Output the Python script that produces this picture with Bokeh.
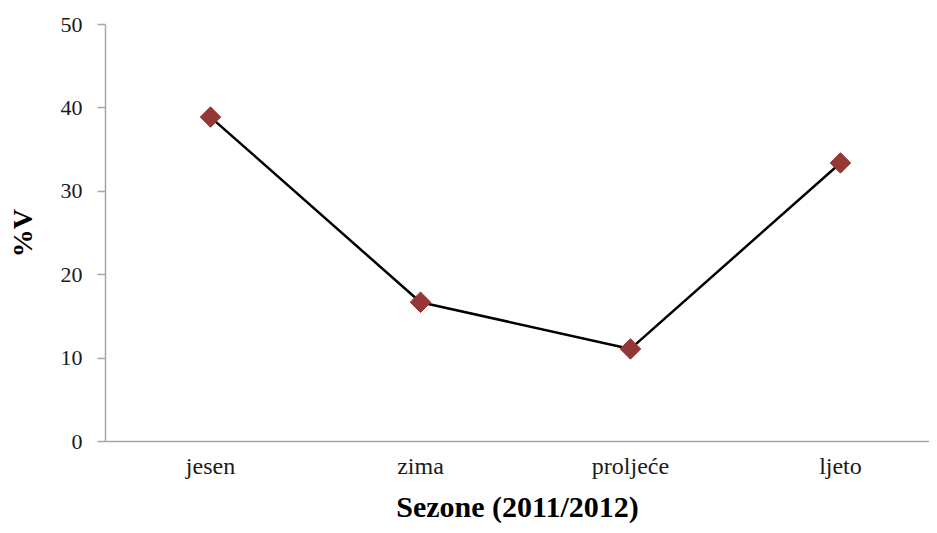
import math
from bokeh.plotting import figure
from bokeh.models import FixedTicker, Range1d, ColumnDataSource
from bokeh.embed import file_html
from bokeh.resources import INLINE

seasons = ["jesen", "zima", "proljeće", "ljeto"]
values = [38.9, 16.7, 11.1, 33.4]
y_ticks = [0, 10, 20, 30, 40, 50]

xs = list(range(1, len(seasons) + 1))
src = ColumnDataSource(dict(x=xs, y=values, name=seasons))

FONT = "Liberation Serif"

p = figure(width=929, height=525, output_backend="svg", toolbar_location=None,
           x_range=Range1d(0.5, 4.424), y_range=Range1d(0, 50),
           min_border_left=105, min_border_top=24, min_border_bottom=82, min_border_right=0)
p.outline_line_color = None
p.grid.visible = False

p.line("x", "y", source=src, line_color="black", line_width=2.5)
p.scatter("x", "y", source=src, marker="square", angle=math.pi / 4, size=14.5,
          fill_color="#953735", line_color="#953735")

xa = p.xaxis[0]
xa.ticker = FixedTicker(ticks=xs)
xa.major_label_overrides = {i: s for i, s in zip(xs, seasons)}
xa.major_tick_out = 0
xa.major_tick_in = 0
xa.minor_tick_out = 0
xa.minor_tick_in = 0
xa.axis_line_color = "#a6a6a6"
xa.axis_line_width = 1.5
xa.major_label_text_font = FONT
xa.major_label_text_font_size = "24px"
xa.major_label_text_color = "#1a1a1a"
xa.major_label_standoff = 11
xa.axis_label = "Sezone (2011/2012)"
xa.axis_label_text_font = FONT
xa.axis_label_text_font_size = "30px"
xa.axis_label_text_font_style = "bold"
xa.axis_label_text_color = "black"
xa.axis_label_standoff = 8

ya = p.yaxis[0]
ya.ticker = FixedTicker(ticks=y_ticks)
ya.major_tick_out = 8
ya.major_tick_in = 0
ya.minor_tick_out = 0
ya.minor_tick_in = 0
ya.major_tick_line_color = "#a6a6a6"
ya.axis_line_color = "#a6a6a6"
ya.axis_line_width = 1.5
ya.major_tick_line_width = 1.5
ya.major_label_text_font = FONT
ya.major_label_text_font_size = "22px"
ya.major_label_text_color = "#1a1a1a"
ya.major_label_standoff = 15
ya.axis_label = "%V"
ya.axis_label_text_font = FONT
ya.axis_label_text_font_size = "28px"
ya.axis_label_text_font_style = "bold"
ya.axis_label_text_color = "black"
ya.axis_label_standoff = 20

open("out.html", "w").write(file_html(p, INLINE))
